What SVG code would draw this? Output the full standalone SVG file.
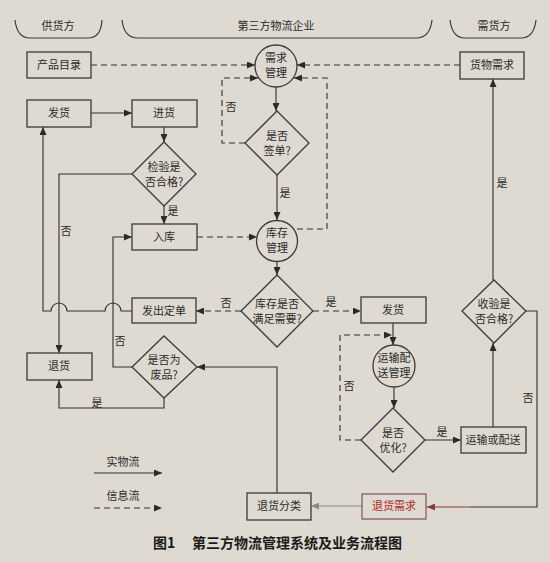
<svg xmlns="http://www.w3.org/2000/svg" width="550" height="562" viewBox="0 0 550 562">
<defs>
<marker id="ah" viewBox="0 0 8 7" refX="8" refY="3.5" markerWidth="8" markerHeight="7" markerUnits="userSpaceOnUse" orient="auto"><path d="M0,0 L8,3.5 L0,7 z" fill="#2a2a2a"/></marker>
<marker id="ahg" viewBox="0 0 8 7" refX="8" refY="3.5" markerWidth="8" markerHeight="7" markerUnits="userSpaceOnUse" orient="auto"><path d="M0,0 L8,3.5 L0,7 z" fill="#8a8a8a"/></marker>
<marker id="ahr" viewBox="0 0 8 7" refX="8" refY="3.5" markerWidth="8" markerHeight="7" markerUnits="userSpaceOnUse" orient="auto"><path d="M0,0 L8,3.5 L0,7 z" fill="#8a3a3a"/></marker>
</defs>
<style>
text{font-family:"Noto Sans CJK SC","Liberation Sans",sans-serif;font-size:11px;fill:#2a2a2a;text-anchor:middle}
.box{fill:none;stroke:#3a3a3a;stroke-width:1.3}
.ln{fill:none;stroke:#2e2e2e;stroke-width:1.1}
.sol{marker-end:url(#ah)}
.dash{stroke-dasharray:6 4;marker-end:url(#ah)}
.dl{stroke-dasharray:6 4}
.hdr{fill:none;stroke:#3a3a3a;stroke-width:1.2}
.cap{font-size:14px;font-weight:bold;text-anchor:start;fill:#1a1a1a}
</style>
<rect x="0" y="0" width="550" height="562" fill="#dedad1"/>

<g id="headers">
<path class="hdr" d="M15,20 Q17,38 30,38 H88 Q101,38 102,20"/>
<text x="58" y="30">供货方</text>
<path class="hdr" d="M122,20 Q124,38 138,38 H416 Q430,38 432,20"/>
<text x="276" y="30">第三方物流企业</text>
<path class="hdr" d="M450,20 Q452,38 465,38 H521 Q534,38 536,20"/>
<text x="494" y="30">需货方</text>
</g>

<g id="connectors">
<path class="ln dash" d="M91,65 H255"/>
<path class="ln dash" d="M460,65 H297"/>
<path class="ln dash" d="M245,143 H222 V78 H258"/>
<path class="ln dash" d="M297,229 H327 V78 H294"/>
<path class="ln sol" d="M276,87 V111"/>
<path class="ln sol" d="M277,175 V220"/>
<path class="ln dash" d="M197,237 H257"/>
<path class="ln sol" d="M277,262 V275"/>
<path class="ln dash" d="M241,311 H196"/>
<path class="ln dash" d="M313,311 H361"/>
<path class="ln sol" d="M393,323 V345"/>
<path class="ln dash" d="M361,440 H340 V335 H392"/>
<path class="ln sol" d="M394,387 V408"/>
<path class="ln sol" d="M425,440 H461"/>
<path class="ln sol" d="M493,427 V343"/>
<path class="ln sol" d="M493,280 V79"/>
<path class="ln" d="M526,311 H537 V507 H470"/>
<path class="ln" stroke="#8a3a3a" style="stroke:#8a3a3a;marker-end:url(#ahr)" d="M470,507 H427"/>
<path class="ln" style="stroke:#8a8a8a;marker-end:url(#ahg)" d="M362,506 H311"/>
<path class="ln sol" d="M277,493 V367 H197"/>
<path class="ln sol" d="M164,398 V408 H59 V380"/>
<path class="ln sol" d="M132,367 H113 V237 H132"/>
<path class="ln sol" d="M132,174 H59 V353"/>
<path class="ln sol" d="M132,311 H121 A8,8 0 0 0 105,311 H67 A8,8 0 0 0 51,311 H43 V127"/>
<path class="ln sol" d="M91,113 H132"/>
<path class="ln sol" d="M164,127 V142"/>
<path class="ln sol" d="M164,206 V224"/>
<text x="231" y="111">否</text>
<text x="285" y="197">是</text>
<text x="226" y="307">否</text>
<text x="331" y="306">是</text>
<text x="349" y="390">否</text>
<text x="442" y="436">是</text>
<text x="502" y="187">是</text>
<text x="528" y="402">否</text>
<text x="173" y="215">是</text>
<text x="66" y="235">否</text>
<text x="120" y="345">否</text>
<text x="97" y="407">是</text>
</g>

<g id="n-chanpinmulu"><rect class="box" x="27" y="52" width="64" height="26"/><text x="59" y="69">产品目录</text></g>
<g id="n-xuqiuguanli"><circle class="box" cx="276" cy="66" r="21"/><text x="276" y="62">需求</text><text x="276" y="77">管理</text></g>
<g id="n-huowuxuqiu"><rect class="box" x="460" y="52" width="64" height="27"/><text x="492" y="69">货物需求</text></g>
<g id="n-fahuo1"><rect class="box" x="27" y="100" width="64" height="27"/><text x="59" y="117">发货</text></g>
<g id="n-jinhuo"><rect class="box" x="132" y="100" width="65" height="27"/><text x="164" y="117">进货</text></g>
<g id="n-shifouqiandan"><path class="box" d="M277,111 L309,143 L277,175 L245,143 Z"/><text x="277" y="140">是否</text><text x="277" y="155">签单?</text></g>
<g id="n-jianyan"><path class="box" d="M164,142 L196,174 L164,206 L132,174 Z"/><text x="164" y="171">检验是</text><text x="164" y="186">否合格?</text></g>
<g id="n-ruku"><rect class="box" x="132" y="224" width="65" height="26"/><text x="164" y="241">入库</text></g>
<g id="n-kucunguanli"><circle class="box" cx="277" cy="241" r="20.5"/><text x="277" y="237">库存</text><text x="277" y="252">管理</text></g>
<g id="n-kucunmanzu"><path class="box" d="M277,275 L313,311 L277,347 L241,311 Z"/><text x="277" y="308">库存是否</text><text x="277" y="323">满足需要?</text></g>
<g id="n-fachudingdan"><rect class="box" x="132" y="298" width="64" height="25"/><text x="164" y="315">发出定单</text></g>
<g id="n-fahuo2"><rect class="box" x="361" y="297" width="65" height="26"/><text x="393" y="314">发货</text></g>
<g id="n-shouyan"><path class="box" d="M494,280 L526,311 L494,343 L462,311 Z"/><text x="494" y="308">收验是</text><text x="494" y="323">否合格?</text></g>
<g id="n-yunshupeisongguanli"><circle class="box" cx="394" cy="366" r="21"/><text x="394" y="362">运输配</text><text x="394" y="377">送管理</text></g>
<g id="n-tuihuo"><rect class="box" x="27" y="353" width="65" height="27"/><text x="59" y="370">退货</text></g>
<g id="n-feipin"><path class="box" d="M164,336 L197,367 L164,398 L132,367 Z"/><text x="164" y="364">是否为</text><text x="164" y="379">废品?</text></g>
<g id="n-youhua"><path class="box" d="M393,408 L425,440 L393,472 L361,440 Z"/><text x="393" y="437">是否</text><text x="393" y="452">优化?</text></g>
<g id="n-yunshuhuopeisong"><rect class="box" x="461" y="427" width="65" height="26"/><text x="493" y="444">运输或配送</text></g>
<g id="n-tuihuofenlei"><rect class="box" x="247" y="493" width="64" height="27"/><text x="279" y="510">退货分类</text></g>
<g id="n-tuihuoxuqiu"><rect class="box" style="stroke:#8a5a5a" x="362" y="494" width="64" height="25"/><text x="394" y="510" style="fill:#b02828">退货需求</text></g>

<g id="legend">
<text x="123" y="466">实物流</text>
<path class="ln sol" d="M94,473 H162"/>
<text x="123" y="500">信息流</text>
<path class="ln dash" d="M94,508 H162"/>
</g>

<g id="caption">
<text class="cap" x="153" y="548">图1</text>
<text class="cap" x="192" y="548">第三方物流管理系统及业务流程图</text>
</g>
</svg>
